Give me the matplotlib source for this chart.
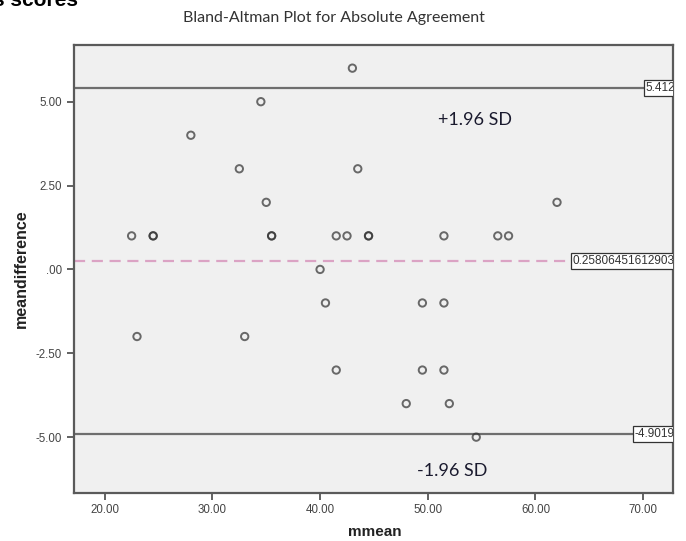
import numpy as np
import matplotlib.pyplot as plt

# mean of the two ratings and their difference, one entry per subject
mmean = [43.0, 34.5, 28.0, 32.5, 43.5, 35.0, 22.5, 24.5, 24.5, 35.5, 35.5,
         41.5, 42.5, 44.5, 44.5, 40.0, 40.5, 23.0, 33.0, 41.5,
         62.0, 51.5, 56.5, 57.5, 49.5, 51.5, 49.5, 51.5, 48.0, 52.0, 54.5]
meandifference = [6, 5, 4, 3, 3, 2, 1, 1, 1, 1, 1,
                  1, 1, 1, 1, 0, -1, -2, -2, -3,
                  2, 1, 1, 1, -1, -1, -3, -3, -4, -4, -5]

upper_label = "5.412"
mean_label = "0.25806451612903"
lower_label = "-4.9019"
upper_loa = 5.412
mean_diff = 0.25806451612903
lower_loa = -4.9019

xticks = [20, 30, 40, 50, 60, 70]
yticks = [5, 2.5, 0, -2.5, -5]
ytick_labels = ["5.00", "2.50", ".00", "-2.50", "-5.00"]

plt.rcParams["font.family"] = ["Liberation Sans", "DejaVu Sans"]

fig = plt.figure(figsize=(6.86, 5.41), dpi=100)
ax = fig.add_axes([74 / 686, 1 - 492.5 / 541, (673 - 74) / 686, (492.5 - 45) / 541])
ax.set_facecolor("#f0f0f0")

ax.axhline(upper_loa, color="#6e6e6e", lw=1.6, zorder=1)
ax.axhline(lower_loa, color="#6e6e6e", lw=1.6, zorder=1)
ax.axhline(mean_diff, color="#dba3c4", lw=1.6, ls=(0, (5, 3)), zorder=1)

ax.scatter(mmean, meandifference, s=28, facecolors="none",
           edgecolors="#333333", alpha=0.72, linewidths=1.4, zorder=3)

box = dict(boxstyle="square,pad=0.15", fc="white", ec="#333333", lw=0.9)
for yv, lab in [(upper_loa, upper_label), (mean_diff, mean_label), (lower_loa, lower_label)]:
    ax.text(72.95, yv, lab, ha="right", va="center", fontsize=8.5,
            color="#333333", bbox=box, clip_on=True, zorder=4)

ax.text(54.4, 4.45, "+1.96 SD", fontsize=13, color="#1a1a2e", family=["Lato", "DejaVu Sans"],
        ha="center", va="center")
ax.text(52.3, -6.02, "-1.96 SD", fontsize=13, color="#1a1a2e", family=["Lato", "DejaVu Sans"],
        ha="center", va="center")

ax.set_xlim(17.15, 72.77)
ax.set_ylim(-6.65, 6.69)
ax.set_xticks(xticks)
ax.set_xticklabels([f"{t:.2f}" for t in xticks])
ax.set_yticks(yticks)
ax.set_yticklabels(ytick_labels)
ax.tick_params(direction="out", length=5, width=1.3, color="#555555",
               labelsize=8.3, labelcolor="#444444")
for s in ax.spines.values():
    s.set_color("#5a5a5a")
    s.set_linewidth(1.6)

ax.set_xlabel("mmean", fontsize=11, fontweight="bold", color="#222222", va="center")
ax.xaxis.set_label_coords(0.5025, -0.089)
ax.set_ylabel("meandifference", fontsize=11.5, fontweight="bold", color="#222222", va="center")
ax.yaxis.set_label_coords(-0.0885, 0.5)

fig.text(334 / 686, 1 - 18 / 541, "Bland-Altman Plot for Absolute Agreement",
         ha="center", va="center", fontsize=11.5, color="#333333",
         family=["Lato", "DejaVu Sans"])
fig.text(-0.01, 1.0, "s scores", ha="left", va="center", fontsize=15,
         fontweight="bold", color="black")

fig.savefig("out.png", dpi=100)
